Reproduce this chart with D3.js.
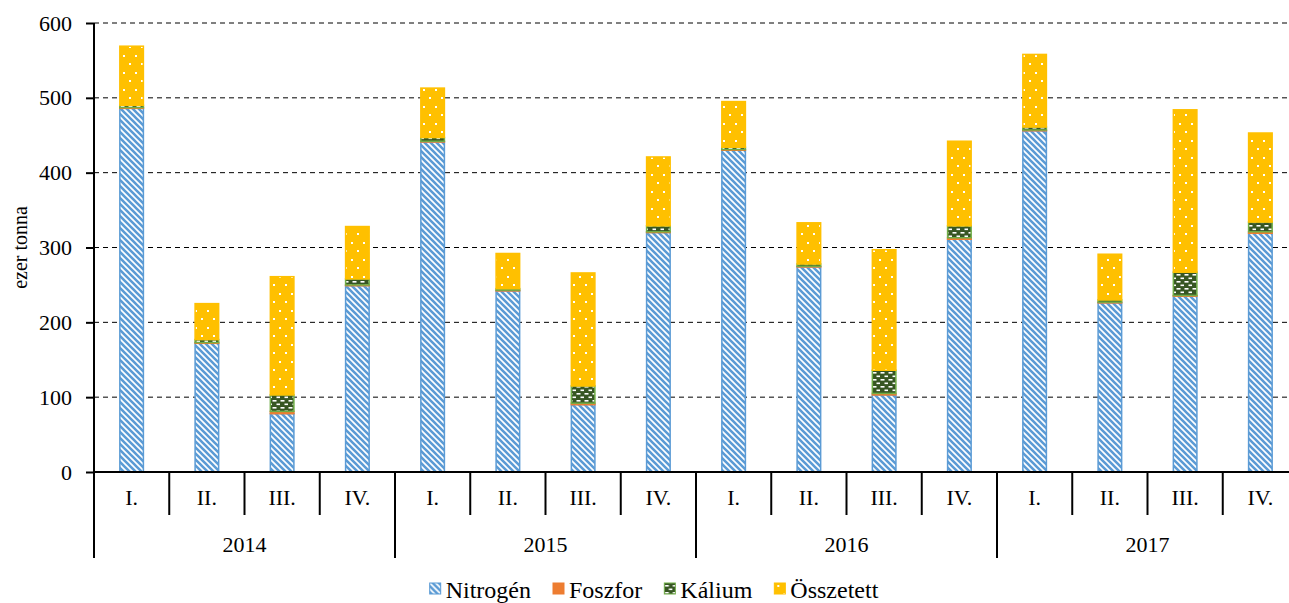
<!DOCTYPE html>
<html>
<head>
<meta charset="utf-8">
<script src="https://cdn.jsdelivr.net/npm/d3@7"></script>
<style>
  body { margin: 0; background: #fff; }
  svg text { font-family: "Liberation Serif", "Times New Roman", "DejaVu Serif", serif !important; fill: #000; }
</style>
</head>
<body>
<div id="chart"></div>
<script>
// data (ezer tonna)
var years = ["2014", "2015", "2016", "2017"];
var quarters = ["I.", "II.", "III.", "IV."];
var nitrogen = [486, 172, 78, 249, 441, 242, 90, 320, 430, 274, 103, 311, 456, 226, 235, 319];
var foszfor = [1, 1, 3, 1, 1, 1, 2, 1, 1, 1, 2, 2, 1, 1, 1, 2];
var kalium = [3, 4, 22, 8, 5, 2, 23, 8, 3, 3, 31, 16, 4, 3, 31, 13];
var osszetett = [79, 48, 158, 70, 66, 47, 151, 92, 61, 55, 161, 113, 97, 61, 217, 119];
var seriesNames = ["Nitrogén", "Foszfor", "Kálium", "Összetett"];
var yTicks = [0, 100, 200, 300, 400, 500, 600];

var W = 1289, H = 603;
var mLeft = 94, mRight = 1298, mTop = 23, mBottom = 472;

// build rows for the stack
var keys = [];
var rows = [];
years.forEach(function (yr, yi) {
    quarters.forEach(function (q, qi) {
        var i = yi * 4 + qi;
        var k = yr + "-" + q;
        keys.push(k);
        rows.push({ key: k, year: yr, q: q, n: nitrogen[i], p: foszfor[i], k: kalium[i], o: osszetett[i] });
    });
});

var svg = d3.select("#chart").append("svg")
    .attr("width", W)
    .attr("height", H)
    .style("display", "block");

// patterns
var defs = svg.append("defs");

var pN = defs.append("pattern").attr("id", "pat-n")
    .attr("patternUnits", "userSpaceOnUse").attr("width", 6).attr("height", 6);
pN.append("rect").attr("width", 6).attr("height", 6).attr("fill", "#fff");
pN.append("path").attr("d", "M0,0L6,6M-3,3L3,9M3,-3L9,3")
    .attr("stroke", "#5b9bd5").attr("stroke-width", 2.6);

var pK = defs.append("pattern").attr("id", "pat-k")
    .attr("patternUnits", "userSpaceOnUse").attr("width", 8).attr("height", 7);
pK.append("rect").attr("width", 8).attr("height", 7).attr("fill", "#375623");
pK.append("rect").attr("x", 0.5).attr("y", 1).attr("width", 4).attr("height", 1.6).attr("fill", "#fff");
pK.append("rect").attr("x", 4.5).attr("y", 4.5).attr("width", 4).attr("height", 1.6).attr("fill", "#fff");

var pO = defs.append("pattern").attr("id", "pat-o")
    .attr("patternUnits", "userSpaceOnUse").attr("width", 12).attr("height", 17);
pO.append("rect").attr("width", 12).attr("height", 17).attr("fill", "#ffc000");
pO.append("rect").attr("x", 3).attr("y", 4).attr("width", 2).attr("height", 2).attr("fill", "#fff");
pO.append("rect").attr("x", 9).attr("y", 12).attr("width", 2).attr("height", 2).attr("fill", "#fff");

var fills = ["url(#pat-n)", "#ed7d31", "url(#pat-k)", "url(#pat-o)"];
var strokes = ["#5b9bd5", "#ed7d31", "#70ad47", "#ffc000"];

// scales
var x = d3.scaleBand().domain(keys).range([mLeft, mRight])
    .paddingInner(0.667).paddingOuter(0.3335);
var step = x.step();
var y = d3.scaleLinear().domain([0, 600]).range([mBottom, mTop]);

// gridlines
svg.append("g").selectAll("line")
    .data(yTicks.filter(function (d) { return d > 0; }))
    .join("line")
    .attr("x1", mLeft).attr("x2", mRight)
    .attr("y1", function (d) { return y(d); }).attr("y2", function (d) { return y(d); })
    .attr("stroke", "#000").attr("stroke-width", 1)
    .attr("stroke-dasharray", "5,4");

// stacked bars
var stack = d3.stack().keys(["n", "p", "k", "o"]);
var layers = stack(rows);

svg.append("g").selectAll("g")
    .data(layers)
    .join("g")
    .attr("fill", function (d, i) { return fills[i]; })
    .attr("stroke", function (d, i) { return strokes[i]; })
    .attr("stroke-width", 1.5)
    .selectAll("rect")
    .data(function (d) { return d; })
    .join("rect")
    .attr("x", function (d) { return x(d.data.key) + 0.75; })
    .attr("width", x.bandwidth() - 1.5)
    .attr("y", function (d) { return y(d[1]); })
    .attr("height", function (d) { return Math.max(0, y(d[0]) - y(d[1])); });

// y axis
var yAxis = svg.append("g")
    .attr("transform", "translate(" + mLeft + ",0)")
    .call(d3.axisLeft(y).tickValues(yTicks).tickSize(8).tickPadding(14));
yAxis.attr("font-family", null).attr("font-size", null);
yAxis.select(".domain").remove();
yAxis.selectAll(".tick line").attr("stroke", "#000").attr("stroke-width", 2);
yAxis.selectAll(".tick text")
    .style("font-size", "22px");

svg.append("line")
    .attr("x1", mLeft).attr("x2", mLeft)
    .attr("y1", mTop).attr("y2", 558)
    .attr("stroke", "#000").attr("stroke-width", 2);

svg.append("text")
    .attr("transform", "translate(20," + ((mTop + mBottom) / 2) + ") rotate(-90)")
    .attr("text-anchor", "middle")
    .attr("dominant-baseline", "central")
    .style("font-size", "20px")
    .text("ezer tonna");

// x axis
svg.append("line")
    .attr("x1", mLeft).attr("x2", mRight)
    .attr("y1", mBottom).attr("y2", mBottom)
    .attr("stroke", "#000").attr("stroke-width", 2);

var xAx = svg.append("g");
// separators
xAx.selectAll("line.sep")
    .data(d3.range(keys.length + 1))
    .join("line")
    .attr("class", "sep")
    .attr("x1", function (i) { return mLeft + i * step; })
    .attr("x2", function (i) { return mLeft + i * step; })
    .attr("y1", mBottom)
    .attr("y2", function (i) { return i % 4 === 0 ? 558 : 515; })
    .attr("stroke", "#000").attr("stroke-width", 2);

xAx.selectAll("text.q")
    .data(rows)
    .join("text")
    .attr("class", "q")
    .attr("x", function (d) { return x(d.key) + x.bandwidth() / 2; })
    .attr("y", 505)
    .attr("text-anchor", "middle")
    .style("font-size", "22px")
    .text(function (d) { return d.q; });

xAx.selectAll("text.yr")
    .data(years)
    .join("text")
    .attr("class", "yr")
    .attr("x", function (d, i) { return mLeft + (i * 4 + 2) * step; })
    .attr("y", 552)
    .attr("text-anchor", "middle")
    .style("font-size", "22px")
    .text(function (d) { return d; });

// legend
var legend = svg.append("g");
var items = legend.selectAll("g")
    .data(seriesNames)
    .join("g");
items.append("rect")
    .attr("width", 11).attr("height", 11)
    .attr("y", -15)
    .attr("fill", function (d, i) { return fills[i]; })
    .attr("stroke", function (d, i) { return strokes[i]; })
    .attr("stroke-width", 1);
items.append("text")
    .attr("x", 16)
    .style("font-size", "24px")
    .text(function (d) { return d; });

var lx = 0;
items.each(function () {
    var g = d3.select(this);
    g.attr("transform", "translate(" + lx + ",0)");
    lx += 16 + g.select("text").node().getComputedTextLength() + 22;
});
lx -= 22;
legend.attr("transform", "translate(" + (654 - lx / 2) + ",598)");
</script>
</body>
</html>
